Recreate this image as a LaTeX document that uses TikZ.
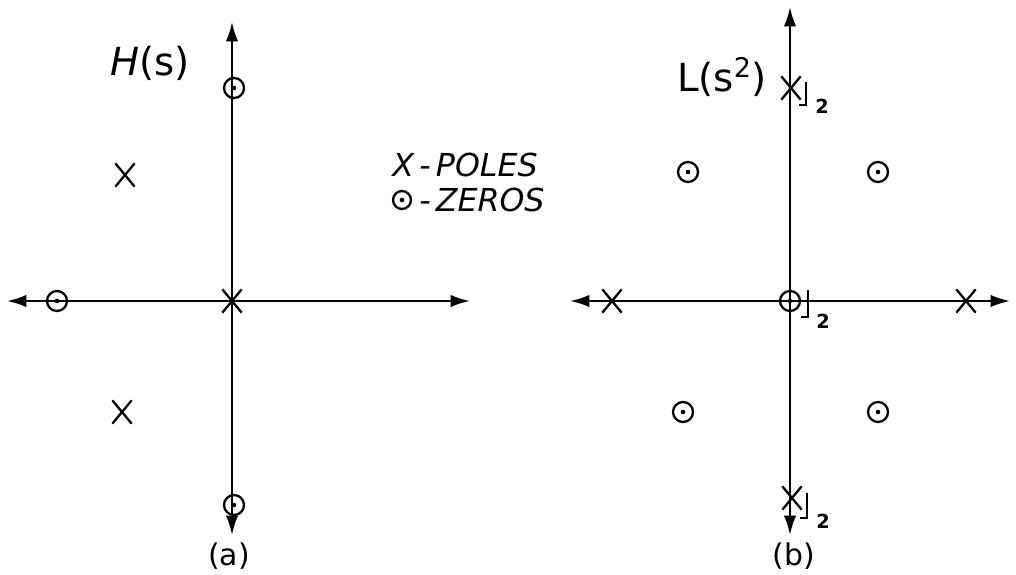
\documentclass[tikz,border=0pt]{standalone}
\usepackage{fontspec}
\setsansfont{DejaVu Sans}
\usetikzlibrary{arrows.meta, shapes.misc, positioning}

\begin{document}
\begin{tikzpicture}[
  x=0.02cm, y=-0.02cm,
  axis/.style={line width=1.3pt, {Latex[length=11pt,width=7pt]}-{Latex[length=11pt,width=7pt]}},
  pole/.style={cross out, draw, line width=1.3pt, minimum width=0.34cm,
               minimum height=0.42cm, inner sep=0pt},
  zero/.style={circle, draw, line width=1.3pt, minimum size=0.4cm, inner sep=0pt,
               path picture={\fill (path picture bounding box.center) circle (1.3pt);}},
  bracket/.style={line width=1.3pt},
  mult/.style={inner sep=0pt, font=\sffamily\bfseries\fontsize{11}{13}\selectfont},
  lbl/.style={font=\sffamily\fontsize{22}{26}\selectfont, inner sep=0pt},
  sublbl/.style={font=\sffamily\fontsize{17}{20}\selectfont, inner sep=0pt},
  key/.style={font=\sffamily\itshape\fontsize{18}{21}\selectfont, anchor=west, inner sep=0pt},
]
  \useasboundingbox (0,0) rectangle (1016,574);

  % (a) plane of H(s)
  \coordinate (aW) at (7,301);
  \coordinate (aE) at (470,301);
  \coordinate (aN) at (232,22);
  \coordinate (aS) at (232,535);
  \draw[axis] (aW) -- (aE);
  \draw[axis] (aN) -- (aS);

  \node[pole] (ap0) at (232,301) {};
  \node[pole] (ap1) at (125,175) {};
  \node[pole] (ap2) at (122,412) {};
  \node[zero] (az1) at (234,88) {};
  \node[zero] (az2) at (57,301) {};
  \node[zero] (az3) at (234,505) {};

  \node[lbl] (hs) at (150,63) {{\itshape H}(s)};
  \node[sublbl] (ca) at (229,556) {(a)};

  % key
  \node[key] (kp) at (392,165) {X\,-\,POLES};
  \node[key] (kz) at (392,200) {\phantom{X}\,-\,ZEROS};
  \node[zero, minimum size=0.36cm] (kzs) at (402,200) {};

  % (b) plane of L(s^2)
  \coordinate (bW) at (570,301);
  \coordinate (bE) at (1010,301);
  \coordinate (bN) at (790,7);
  \coordinate (bS) at (790,535);
  \draw[axis] (bW) -- (bE);
  \draw[axis] (bN) -- (bS);

  \node[pole] (bp1) at (791,88) {};
  \node[pole] (bp2) at (612,301) {};
  \node[pole] (bp3) at (966,301) {};
  \node[pole] (bp4) at (792,498) {};
  \node[zero] (bz0) at (790,301) {};
  \node[zero] (bz1) at (688,172) {};
  \node[zero] (bz2) at (878,172) {};
  \node[zero] (bz3) at (683,412) {};
  \node[zero] (bz4) at (878,412) {};

  % double roots
  \draw[bracket] (806,82) -- (806,105) -- (799,105);
  \node[mult] (m1) at (822,106) {2};
  \draw[bracket] (808,290) -- (808,317) -- (801,317);
  \node[mult] (m0) at (823,321) {2};
  \draw[bracket] (807,493) -- (807,518) -- (800,518);
  \node[mult] (m4) at (823,521) {2};

  \node[lbl] (ls) at (722,77) {L(s\textsuperscript{2})};
  \node[sublbl] (cb) at (794,556) {(b)};
\end{tikzpicture}
\end{document}
